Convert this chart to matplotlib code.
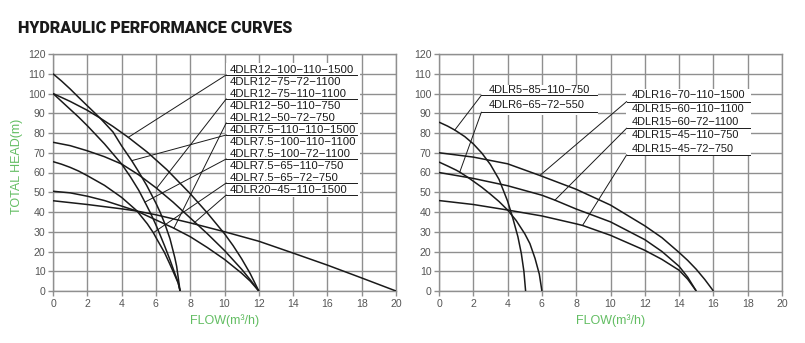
import matplotlib
matplotlib.use("Agg")
import numpy as np
import matplotlib.pyplot as plt
from matplotlib.patches import Rectangle

# ---------------- data (left panel) ----------------
# 4DLR7.5-110
A_x = [0, 0.5, 1, 1.5, 2, 2.74, 3.5, 4, 4.59, 5, 5.46, 6, 6.24, 6.5, 6.82, 7.1, 7.21, 7.41]
A_y = [110, 106.3, 102.3, 98, 93.8, 87.6, 80.5, 73.5, 66, 60.3, 53.5, 44.5, 40, 34.5, 26.5, 17, 12.5, 0]
# 4DLR12-100
B_x = [0, 1, 2, 2.74, 3.5, 4.39, 5.5, 6.63, 8, 9, 10, 10.5, 11, 11.5, 12]
B_y = [100, 96, 91.5, 87.6, 83.3, 77.8, 70.3, 61.5, 49.3, 39.5, 29, 23, 16.3, 8.8, 0]
# 4DLR7.5-100
C_x = [0, 0.5, 1, 1.5, 2, 3, 4, 4.5, 5, 5.36, 5.7, 6, 6.24, 6.5, 6.82, 7.1, 7.3, 7.41]
C_y = [100, 96, 92, 88, 83.7, 74.5, 64.3, 58, 51, 45, 39.2, 33.5, 28.5, 23, 15.8, 9, 4.2, 0]
# 4DLR12-75
G_x = [0, 1, 2, 3, 4, 5, 6, 7, 8, 9, 10, 11, 11.5, 12]
G_y = [75.3, 73.6, 71, 68, 64.3, 58.8, 52.3, 45, 37, 29, 20.5, 11, 5.7, 0]
# 4DLR7.5-65
D_x = [0, 0.5, 1, 1.5, 2, 3, 4, 4.88, 5.5, 5.85, 6.04, 6.5, 6.82, 7.1, 7.3, 7.41]
D_y = [65.5, 64.2, 62.6, 60.7, 58.4, 53.5, 47.4, 40.7, 34, 29.5, 26.5, 19.5, 13.5, 8, 4, 0]
# 4DLR12-50
E_x = [0, 1, 2, 3, 4, 4.88, 6, 7, 8, 9, 10, 11, 11.5, 12]
E_y = [50.5, 49.7, 48, 45.8, 43, 40.5, 36, 32, 27.5, 22, 16, 9, 5, 0]
# 4DLR20-45
F_x = [0, 2, 4, 4.88, 6, 8, 10, 12, 14, 16, 18, 20]
F_y = [45.7, 43.8, 41.6, 40.5, 38.6, 34.5, 30, 25.2, 19.2, 13.1, 6.6, 0]

left_labels = ["4DLR12\u2212100\u2212110\u22121500", "4DLR12\u221275\u221272\u22121100",
               "4DLR12\u221275\u2212110\u22121100", "4DLR12\u221250\u2212110\u2212750",
               "4DLR12\u221250\u221272\u2212750", "4DLR7.5\u2212110\u2212110\u22121500",
               "4DLR7.5\u2212100\u2212110\u22121100", "4DLR7.5\u2212100\u221272\u22121100",
               "4DLR7.5\u221265\u2212110\u2212750", "4DLR7.5\u221265\u221272\u2212750",
               "4DLR20\u221245\u2212110\u22121500"]
# label rows that carry an underline + leader, the curve it points to, and the flow where it lands
left_lead_rows = [0, 2, 4, 5, 7, 9, 10]
left_lead_curve = ["B", "G", "E", "A", "C", "D", "F"]
left_lead_x = [4.39, 6.04, 7.05, 4.59, 5.36, 5.85, 8.18]

# ---------------- data (right panel) ----------------
R1_x = [0, 0.5, 0.92, 1.5, 2, 2.5, 3, 3.5, 4, 4.3, 4.6, 4.8, 4.95, 5.05]
R1_y = [85.5, 83.5, 81.5, 78.2, 74.5, 69.8, 64, 56.5, 45.5, 37, 27.5, 19, 10, 0]
R2_x = [0, 0.5, 1, 1.21, 1.69, 2, 2.5, 3, 3.5, 4, 4.5, 5, 5.3, 5.6, 5.85, 6]
R2_y = [65.3, 63.3, 61.2, 60.2, 57.5, 55.6, 52.5, 49, 45.3, 41, 35.7, 29, 24, 16.5, 8.5, 0]
R3_x = [0, 2, 4, 5.88, 8, 10, 12, 13, 14, 14.5, 15, 15.5, 16]
R3_y = [70, 67.8, 64.4, 58.5, 51.5, 43.5, 33, 27, 19.5, 15.5, 11, 5.8, 0]
R4_x = [0, 2, 4, 6, 6.76, 8, 10, 12, 13, 14, 14.5, 15]
R4_y = [60, 57, 53.3, 48.5, 46, 41.5, 35, 26, 20, 12.5, 7, 0]
R5_x = [0, 2, 4, 6, 8, 8.37, 10, 12, 13, 14, 14.5, 15]
R5_y = [45.8, 43.8, 41, 38, 34, 33.2, 28.2, 20.6, 16, 10.5, 6, 0]

right_labels_a = ["4DLR5\u221285\u2212110\u2212750", "4DLR6\u221265\u221272\u2212550"]
right_a_lead_curve = ["R1", "R2"]
right_a_lead_x = [0.92, 1.21]
right_labels_b = ["4DLR16\u221270\u2212110\u22121500", "4DLR15\u221260\u2212110\u22121100",
                  "4DLR15\u221260\u221272\u22121100", "4DLR15\u221245\u2212110\u2212750",
                  "4DLR15\u221245\u221272\u2212750"]
right_b_lead_rows = [0, 2, 4]
right_b_lead_curve = ["R3", "R4", "R5"]
right_b_lead_x = [5.88, 6.76, 8.37]

x_ticks = list(range(0, 21, 2))
y_ticks = list(range(0, 121, 10))

left_curves = {"A": (A_x, A_y), "B": (B_x, B_y), "C": (C_x, C_y), "G": (G_x, G_y),
               "D": (D_x, D_y), "E": (E_x, E_y), "F": (F_x, F_y)}
right_curves = {"R1": (R1_x, R1_y), "R2": (R2_x, R2_y), "R3": (R3_x, R3_y),
                "R4": (R4_x, R4_y), "R5": (R5_x, R5_y)}

# ---------------- style ----------------
FONT = ["Liberation Sans", "DejaVu Sans"]
GRID = "#8f8f8f"
GREEN = "#62bd62"
TICKC = "#555555"
INK = "#1a1a1a"

fig = plt.figure(figsize=(8.05, 3.43), dpi=100)
ax1 = fig.add_axes([53 / 805, 52 / 343, 343 / 805, 237 / 343])
ax2 = fig.add_axes([439 / 805, 52 / 343, 343 / 805, 237 / 343])


def style(ax):
    ax.set_xlim(0, 20)
    ax.set_ylim(0, 120)
    ax.set_xticks(x_ticks)
    ax.set_yticks(y_ticks)
    ax.grid(True, color=GRID, lw=1.0, zorder=0)
    ax.set_axisbelow(True)
    for s in ax.spines.values():
        s.set_color(GRID)
        s.set_linewidth(1.0)
    ax.tick_params(colors=GRID, length=3.5, width=1.0, labelcolor=TICKC, labelsize=7.6, pad=2)
    for t in ax.get_xticklabels() + ax.get_yticklabels():
        t.set_fontfamily(FONT)
    ax.set_xlabel("FLOW(m\u00b3/h)", color=GREEN, fontsize=9, family=FONT, labelpad=4)


style(ax1)
style(ax2)
ax1.set_ylabel("TOTAL HEAD(m)", color=GREEN, fontsize=9, family=FONT)
ax1.yaxis.set_label_coords(-0.088, 0.524)


def draw_curves(ax, curves):
    for xs, ys in curves.values():
        ax.plot(xs, ys, color=INK, lw=1.1, zorder=3, solid_joinstyle="round",
                solid_capstyle="butt")


draw_curves(ax1, left_curves)
draw_curves(ax2, right_curves)


def leader(ax, x0, y0, x1, y1, curve, lx):
    xs, ys = curve
    ly = float(np.interp(lx, xs, ys))
    ax.plot([x0, x1], [y0, y0], color=INK, lw=0.7, zorder=4)
    ax.plot([x0, lx], [y0, ly], color=INK, lw=0.7, zorder=4)


# left label block
ax1.add_patch(Rectangle((10.1, 47.8), 7.8, 67.5, facecolor="white", edgecolor="none", zorder=2))
row_y = [111.9 - 6.08 * i for i in range(len(left_labels))]
for i, lab in enumerate(left_labels):
    ax1.text(10.28, row_y[i], lab, fontsize=8.2, family=FONT, color=INK,
             va="center", ha="left", zorder=4)
for r, cname, lx in zip(left_lead_rows, left_lead_curve, left_lead_x):
    uy = row_y[r] - 2.5
    leader(ax1, 10.1, uy, 17.75, uy, left_curves[cname], lx)

# right label block a
ax2.add_patch(Rectangle((2.45, 89), 6.8, 15.2, facecolor="white", edgecolor="none", zorder=2))
ra_y = [101.6, 94.2]
for i, lab in enumerate(right_labels_a):
    ax2.text(2.87, ra_y[i], lab, fontsize=7.9, family=FONT, color=INK,
             va="center", ha="left", zorder=4)
    uy = ra_y[i] - 2.5 - (1.2 if i == 1 else 0)
    leader(ax2, 2.47, uy, 9.2, uy, right_curves[right_a_lead_curve[i]], right_a_lead_x[i])

# right label block b
ax2.add_patch(Rectangle((10.9, 68.6), 7.3, 33.8, facecolor="white", edgecolor="none", zorder=2))
rb_y = [99.1 - 6.75 * i for i in range(len(right_labels_b))]
for i, lab in enumerate(right_labels_b):
    ax2.text(11.24, rb_y[i], lab, fontsize=7.9, family=FONT, color=INK,
             va="center", ha="left", zorder=4)
for r, cname, lx in zip(right_b_lead_rows, right_b_lead_curve, right_b_lead_x):
    uy = rb_y[r] - 3.2
    leader(ax2, 10.94, uy, 18.15, uy, right_curves[cname], lx)

fig.text(18 / 805, 1 - 28 / 343, "HYDRAULIC PERFORMANCE CURVES", fontsize=11.6,
         fontweight="heavy", family=["Liberation Sans Narrow", "Roboto", "DejaVu Sans"],
         color=INK, va="center", ha="left")

fig.savefig("out.png", dpi=100)
